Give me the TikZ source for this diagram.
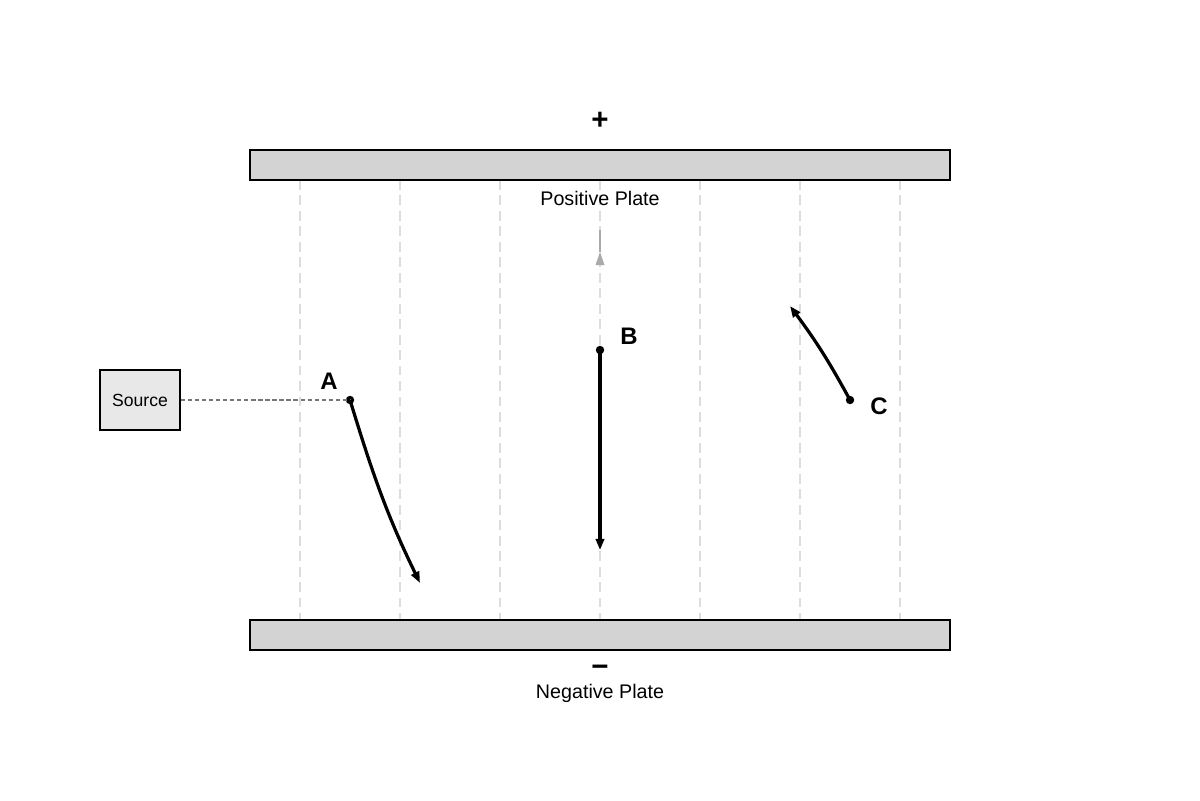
\documentclass[tikz,border=0pt]{standalone}
\usepackage{fontspec}
\setmainfont{Liberation Sans}
\usetikzlibrary{shapes,arrows.meta,positioning}
\definecolor{plategray}{HTML}{D3D3D3}
\definecolor{boxgray}{HTML}{E8E8E8}
\definecolor{fieldgray}{HTML}{DDDDDD}
\definecolor{linkgray}{HTML}{777777}
\definecolor{hintgray}{HTML}{AAAAAA}

\begin{document}
\begin{tikzpicture}[x=0.025cm,y=-0.025cm,
	plate/.style={draw,line width=1.4pt,fill=plategray,minimum width=17.5cm,minimum height=0.75cm,inner sep=0pt},
	field/.style={draw=fieldgray,line width=0.9pt,dash pattern=on 7pt off 4pt},
	traj/.style={line width=2.3pt,-{Triangle[length=8pt,width=6pt]}},
	dot/.style={circle,fill,inner sep=0pt,minimum size=6pt},
	tag/.style={font=\bfseries\fontsize{17}{20}\selectfont},
	sign/.style={font=\bfseries\fontsize{21}{24}\selectfont},
	caption/.style={font=\fontsize{14}{17}\selectfont}]
	\useasboundingbox (0,0) rectangle (1200,800);
	
	% field lines
	\foreach \x in {300,400,...,900}
		\draw[field] (\x,180) -- (\x,620);
	
	\node[plate] (pos) at (600,165) {};
	\node[plate] (neg) at (600,635) {};
	\node[sign] (plus) at (600,121) {+};
	\node[sign] (minus) at (600,671) {−};
	\node[caption] (poslabel) at (600,198) {Positive Plate};
	\node[caption] (neglabel) at (600,693) {Negative Plate};
	
	\node[draw,line width=1.4pt,fill=boxgray,minimum width=2cm,minimum height=1.5cm,inner sep=0pt,font=\fontsize{12.5}{15}\selectfont] (src) at (140,400) {\raisebox{-3pt}{Source}};
	
	\node[dot] (A) at (350,400) {};
	\node[dot] (B) at (600,350) {};
	\node[dot] (C) at (850,400) {};
	\node[tag] (Alabel) at (329,381) {A};
	\node[tag] (Blabel) at (629,336) {B};
	\node[tag] (Clabel) at (879,406) {C};
	
	\coordinate (Aend) at (420,583);
	\coordinate (Bend) at (600,550);
	\coordinate (Cend) at (790,306);
	\coordinate (hint) at (600,230);
	\coordinate (hinttip) at (600,252);
	
	\draw[linkgray,line width=1pt,dash pattern=on 3pt off 2pt] (src.east) -- (A.center);
	
	\path[traj]
	(A.center) edge[out=-73,in=116] (Aend)
	(B.center) edge (Bend)
	(C.center) edge[bend right=4] (Cend);
	
	% weak upward hint
	\draw[hintgray,line width=1.4pt] (hint) -- (hinttip);
	\fill[hintgray] (hinttip) -- ++(-4.5,13) -- ++(9,0) -- cycle;
\end{tikzpicture}
\end{document}
